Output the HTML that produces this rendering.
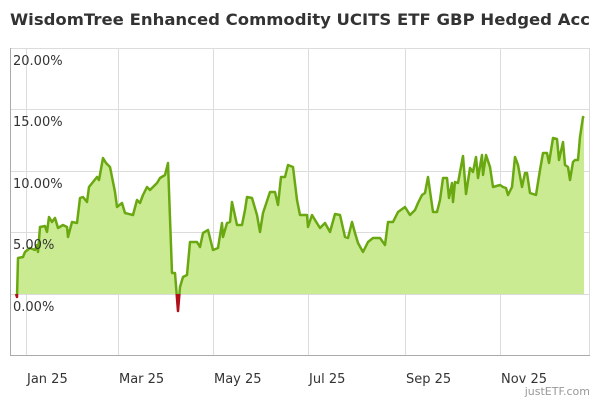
<!DOCTYPE html>
<html><head><meta charset="utf-8"><style>
html,body{margin:0;padding:0;background:#fff;}
svg{display:block;font-family:"DejaVu Sans","Liberation Sans",sans-serif;}
</style></head><body>
<svg width="600" height="400" viewBox="0 0 600 400" xmlns="http://www.w3.org/2000/svg" xmlns:xlink="http://www.w3.org/1999/xlink">
<defs>
<clipPath id="up"><rect x="0" y="0" width="600" height="294"/></clipPath>
<clipPath id="dn"><rect x="0" y="294" width="600" height="106"/></clipPath>
<path id="area" d="M16,294 L16,294 17,297 18,258 23,257 25,252 30,248 35,250 37,245 38,252 40,227 45,226 47,232 49,217 52,222 55,218 58,228 63,225 67,227 68,237 72,222 77,223 80,198 83,197 87,202 89,187 93,182 97,177 99,180 103,158 106,163 110,167 115,192 117,207 122,203 125,213 133,215 137,200 140,203 143,195 147,187 150,190 157,183 160,178 165,175 168,163 172,273 175,273 178,311 180,287 183,277 187,275 190,242 197,242 200,247 203,233 208,230 213,250 218,248 222,223 223,237 227,223 230,222 232,202 237,225 242,225 245,210 247,197 252,198 257,215 260,232 263,213 270,192 275,192 278,205 281,177 285,177 288,165 293,167 297,200 300,215 307,215 308,227 312,215 315,220 320,228 325,223 330,232 335,214 340,215 345,237 348,238 352,222 355,233 358,243 363,252 368,242 373,238 380,238 385,245 388,222 393,222 398,212 405,207 410,215 415,210 418,203 422,195 425,193 428,177 433,212 437,212 440,200 443,178 447,178 449,198 452,183 453,202 455,182 458,183 463,156 466,194 470,168 473,172 476,157 478,178 482,155 483,175 486,155 490,167 493,187 500,185 503,187 506,188 508,195 512,187 515,157 518,165 522,187 525,173 527,173 530,193 536,195 540,170 543,153 547,153 549,163 553,138 557,139 559,160 563,142 565,165 568,167 570,180 573,162 575,160 578,160 580,137 583,117 584,118 L584,294 Z"/>
<path id="ln" d="M16,294 17,297 18,258 23,257 25,252 30,248 35,250 37,245 38,252 40,227 45,226 47,232 49,217 52,222 55,218 58,228 63,225 67,227 68,237 72,222 77,223 80,198 83,197 87,202 89,187 93,182 97,177 99,180 103,158 106,163 110,167 115,192 117,207 122,203 125,213 133,215 137,200 140,203 143,195 147,187 150,190 157,183 160,178 165,175 168,163 172,273 175,273 178,311 180,287 183,277 187,275 190,242 197,242 200,247 203,233 208,230 213,250 218,248 222,223 223,237 227,223 230,222 232,202 237,225 242,225 245,210 247,197 252,198 257,215 260,232 263,213 270,192 275,192 278,205 281,177 285,177 288,165 293,167 297,200 300,215 307,215 308,227 312,215 315,220 320,228 325,223 330,232 335,214 340,215 345,237 348,238 352,222 355,233 358,243 363,252 368,242 373,238 380,238 385,245 388,222 393,222 398,212 405,207 410,215 415,210 418,203 422,195 425,193 428,177 433,212 437,212 440,200 443,178 447,178 449,198 452,183 453,202 455,182 458,183 463,156 466,194 470,168 473,172 476,157 478,178 482,155 483,175 486,155 490,167 493,187 500,185 503,187 506,188 508,195 512,187 515,157 518,165 522,187 525,173 527,173 530,193 536,195 540,170 543,153 547,153 549,163 553,138 557,139 559,160 563,142 565,165 568,167 570,180 573,162 575,160 578,160 580,137 583,117 584,118" fill="none"/>
</defs>
<text x="10" y="25" font-size="16" font-weight="bold" fill="#333" textLength="580" lengthAdjust="spacingAndGlyphs">WisdomTree Enhanced Commodity UCITS ETF GBP Hedged Acc</text>
<g stroke="#dcdcdc" stroke-width="1" fill="none">
<line x1="10" y1="48.5" x2="590" y2="48.5"/>
<line x1="10" y1="109.5" x2="590" y2="109.5"/>
<line x1="10" y1="171.5" x2="590" y2="171.5"/>
<line x1="10" y1="232.5" x2="590" y2="232.5"/>
<line x1="10" y1="294.5" x2="590" y2="294.5"/>
<line x1="26.5" y1="48" x2="26.5" y2="355"/>
<line x1="118.5" y1="48" x2="118.5" y2="355"/>
<line x1="213.5" y1="48" x2="213.5" y2="355"/>
<line x1="308.5" y1="48" x2="308.5" y2="355"/>
<line x1="405.5" y1="48" x2="405.5" y2="355"/>
<line x1="500.5" y1="48" x2="500.5" y2="355"/>
<line x1="589.5" y1="48" x2="589.5" y2="355"/>
</g>
<g stroke="#aaa" stroke-width="1"><line x1="10.5" y1="48" x2="10.5" y2="355"/><line x1="10" y1="355.5" x2="590" y2="355.5"/></g>
<g clip-path="url(#up)"><use xlink:href="#area" fill="#cbeb93"/></g>
<g clip-path="url(#dn)"><use xlink:href="#area" fill="#c0121c"/></g>
<g fill="none" stroke-width="2.5" stroke-linejoin="round">
<g clip-path="url(#up)"><use xlink:href="#ln" stroke="#6aa811"/></g>
<g clip-path="url(#dn)"><use xlink:href="#ln" stroke="#b0101a"/></g>
</g>
<g font-size="13" fill="#333">
<text x="13" y="65">20.00%</text>
<text x="13" y="126">15.00%</text>
<text x="13" y="188">10.00%</text>
<text x="13" y="249">5.00%</text>
<text x="13" y="311">0.00%</text>
<text x="27" y="383">Jan 25</text>
<text x="119" y="383">Mar 25</text>
<text x="214" y="383">May 25</text>
<text x="309" y="383">Jul 25</text>
<text x="406" y="383">Sep 25</text>
<text x="501" y="383">Nov 25</text>
</g>
<text x="590" y="395" font-size="11" fill="#999" text-anchor="end">justETF.com</text>
</svg>
</body></html>
